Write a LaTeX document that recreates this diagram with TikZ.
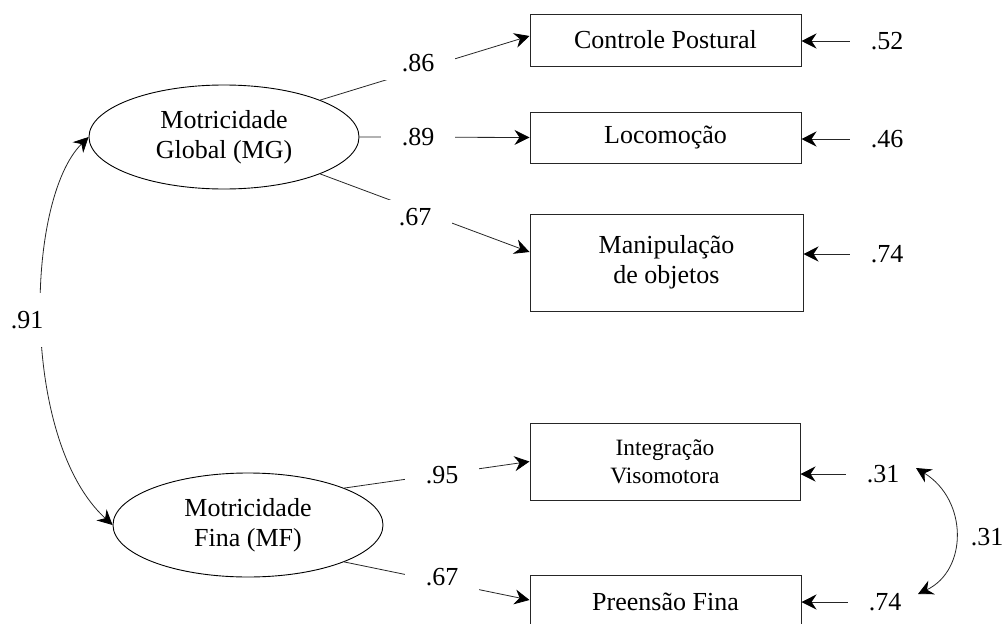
\documentclass[tikz,border=0pt]{standalone}
\usepackage{fontspec}
\setmainfont{Liberation Serif}
\usetikzlibrary{arrows.meta,shapes.geometric,backgrounds}
\begin{document}
\begin{tikzpicture}[x=1pt,y=-1pt,
  txt/.style={font=\fontsize{26}{30}\selectfont},
  obsbox/.style={draw=black!85,line width=1pt,rectangle,align=center,inner sep=0pt,txt},
  latent/.style={draw=black,line width=0.9pt,ellipse,minimum width=270pt,minimum height=104pt,inner sep=0pt,align=center,txt},
  lbl/.style={fill=white,inner xsep=21pt,inner ysep=8pt,txt},
  errlbl/.style={inner xsep=21pt,inner ysep=8pt,txt},
  conn/.style={line width=0.8pt,draw=black!85},
  arr/.style={conn,-{Stealth[length=15pt,width=15pt,inset=5pt,color=black]}},
  darr/.style={conn,{Stealth[length=15pt,width=15pt,inset=5pt,color=black]}-{Stealth[length=15pt,width=15pt,inset=5pt,color=black]}}
]
\clip (0,0) rectangle (1002,624);

% latent variables
\node[latent] (MG) at (224,137) {Motricidade\\Global (MG)};
\node[latent] (MF) at (248,525) {Motricidade\\Fina (MF)};

% observed variables
\node[obsbox,minimum width=271pt,minimum height=52pt] (CP) at (665.5,40) {Controle Postural};
\node[obsbox,minimum width=271pt,minimum height=51pt] (LO) at (665.5,137.5) {Locomoção};
\node[obsbox,minimum width=273pt,minimum height=97pt] (MP) at (666.5,262.5) {Manipulação\\de objetos};
\node[obsbox,minimum width=270pt,minimum height=77pt,font=\fontsize{23.4}{28}\selectfont] (IV) at (665,461.5) {Integração\\Visomotora};
\node[obsbox,minimum width=271pt,minimum height=54pt] (PF) at (665.5,602) {Preensão Fina};

% loading labels
\node[lbl] (l1) at (418,63) {.86};
\node[lbl] (l2) at (418,137) {.89};
\node[lbl] (l3) at (415,217) {.67};
\node[lbl] (l4) at (442,475) {.95};
\node[lbl] (l5) at (442,577) {.67};
\node[lbl,inner ysep=18pt] (l0) at (27,320) {.91};

% error labels
\node[errlbl] (e1) at (887,41) {.52};
\node[errlbl] (e2) at (887,139) {.46};
\node[errlbl] (e3) at (887,254) {.74};
\node[errlbl] (e4) at (883,474) {.31};
\node[errlbl] (e5) at (885,602) {.74};
\node[txt] (c31) at (987,537) {.31};

\coordinate (ca) at (916,468);
\coordinate (cb) at (918,594);

\begin{pgfonlayer}{background}
  \draw[arr] (MG.21) -- ([yshift=4pt]CP.west);
  \draw[arr] (MG.east) -- (LO.west);
  \draw[arr] (MG.-21) -- ([yshift=10.5pt]MP.west);
  \draw[arr] (MF.21) -- (IV.west);
  \draw[arr] (MF.-21) -- ([yshift=2pt]PF.west);
  \draw[darr] (MG.west) .. controls (25,200) and (20,440) .. (MF.west);
\end{pgfonlayer}

\draw[arr] (e1) -- (e1 -| CP.east);
\draw[arr] (e2) -- (e2 -| LO.east);
\draw[arr] (e3) -- (e3 -| MP.east);
\draw[arr] (e4) -- (e4 -| IV.east);
\draw[arr] (e5) -- (e5 -| PF.east);
\draw[darr] (ca) .. controls (968,500) and (968,570) .. (cb);
\end{tikzpicture}
\end{document}
